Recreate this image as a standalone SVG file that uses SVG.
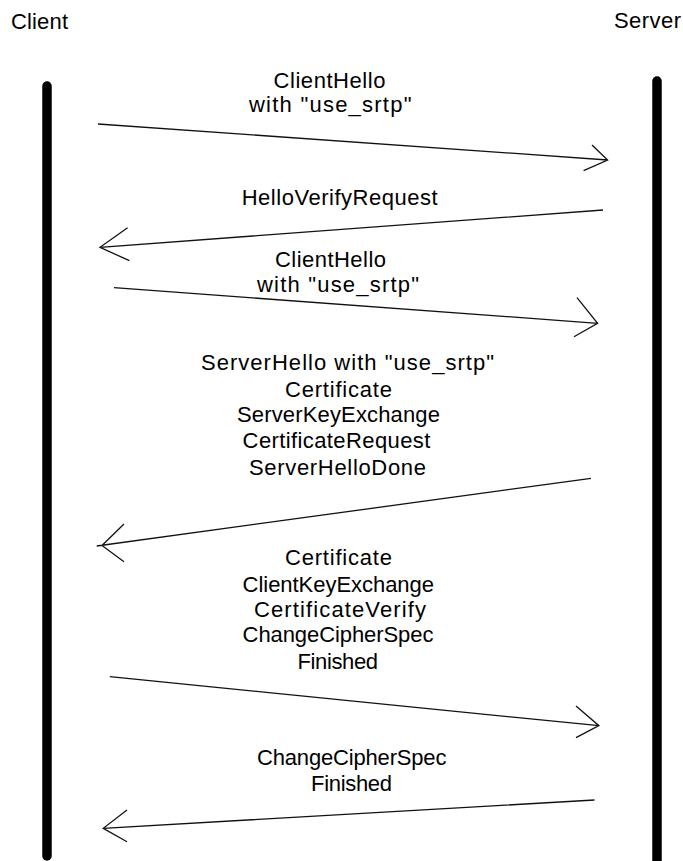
<svg xmlns="http://www.w3.org/2000/svg" width="683" height="861" viewBox="0 0 683 861">
  <style>
    text { font-family: "Liberation Sans Narrow", "Liberation Sans", Arial, sans-serif; font-size: 22px; fill: #000; }
    .lifeline { stroke: #000; stroke-width: 9.5; stroke-linecap: round; fill: none; }
    .msg { stroke: #111; stroke-width: 1.3; fill: none; stroke-linejoin: miter; }
  </style>
  <rect width="683" height="861" fill="#fff"/>

  <!-- participants -->
  <g id="client">
    <text x="11" y="28.5" textLength="57" lengthAdjust="spacing">Client</text>
    <line class="lifeline" x1="47" y1="86" x2="47" y2="856"/>
  </g>
  <g id="server">
    <text x="614" y="28" textLength="67" lengthAdjust="spacing">Server</text>
    <line class="lifeline" x1="657" y1="81" x2="657" y2="875"/>
  </g>

  <!-- message labels -->
  <g id="msg1-label">
    <text x="273.5" y="87.5" textLength="112" lengthAdjust="spacing">ClientHello</text>
    <text x="249" y="111.5" textLength="162.5" lengthAdjust="spacing">with "use_srtp"</text>
  </g>
  <g id="msg2-label">
    <text x="241.7" y="205" textLength="196" lengthAdjust="spacing">HelloVerifyRequest</text>
  </g>
  <g id="msg3-label">
    <text x="275" y="266.7" textLength="111" lengthAdjust="spacing">ClientHello</text>
    <text x="257" y="292.3" textLength="162" lengthAdjust="spacing">with "use_srtp"</text>
  </g>
  <g id="msg4-label">
    <text x="201" y="370" textLength="293" lengthAdjust="spacing">ServerHello with "use_srtp"</text>
    <text x="285" y="396.7" textLength="107" lengthAdjust="spacing">Certificate</text>
    <text x="237" y="422.3" textLength="203" lengthAdjust="spacing">ServerKeyExchange</text>
    <text x="242.6" y="448.3" textLength="187.7" lengthAdjust="spacing">CertificateRequest</text>
    <text x="249" y="474.5" textLength="177" lengthAdjust="spacing">ServerHelloDone</text>
  </g>
  <g id="msg5-label">
    <text x="285" y="565" textLength="107" lengthAdjust="spacing">Certificate</text>
    <text x="242.6" y="591.7" textLength="191.4" lengthAdjust="spacing">ClientKeyExchange</text>
    <text x="254" y="616.7" textLength="172" lengthAdjust="spacing">CertificateVerify</text>
    <text x="242.6" y="641.7" textLength="190.8" lengthAdjust="spacing">ChangeCipherSpec</text>
    <text x="297.5" y="669" textLength="80.5" lengthAdjust="spacing">Finished</text>
  </g>
  <g id="msg6-label">
    <text x="257" y="765" textLength="189.4" lengthAdjust="spacing">ChangeCipherSpec</text>
    <text x="311" y="790.7" textLength="81" lengthAdjust="spacing">Finished</text>
  </g>

  <!-- message arrows with open, hand-drawn heads -->
  <g id="connectors">
    <path id="arrow1" class="msg" d="M98 124 L607.6 160 M592 145 L607.6 160 L583.6 170.7"/>
    <path id="arrow2" class="msg" d="M603 210 L100 247.3 M127.6 227.7 L100 247.3 L129.4 260.7"/>
    <path id="arrow3" class="msg" d="M114 287.7 L597.6 323.3 M577 297.7 L597.6 323.3 L574 336.7"/>
    <path id="arrow4" class="msg" d="M591 478.3 L96.7 546 M124 524 L102 545.5 L124 561.7"/>
    <path id="arrow5" class="msg" d="M109.8 676.7 L598.9 725.7 M576 706 L598.9 725.7 L576 737.7"/>
    <path id="arrow6" class="msg" d="M594.5 800 L103.2 828.3 M127 810 L103.2 828.3 L127 841.7"/>
  </g>
</svg>
